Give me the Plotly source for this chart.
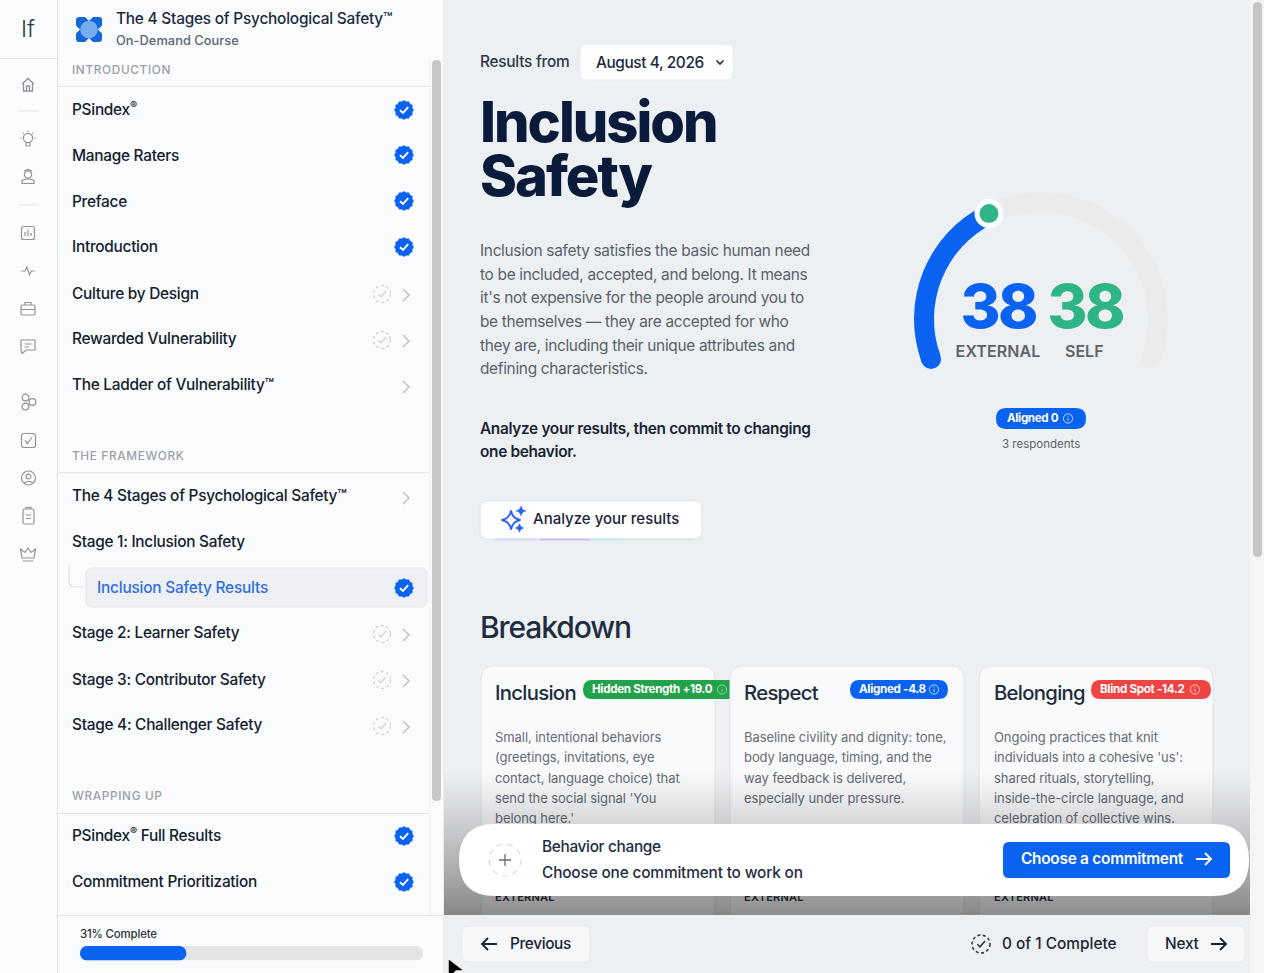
import json
import math
import plotly.graph_objects as go

# ---------- chart values ----------
EXTERNAL_SCORE = 38
SELF_SCORE = 38
GAUGE_MAX = 100
PROGRESS_PCT = 31
GAUGE_LABELS = ["EXTERNAL", "SELF"]
ALIGN_BADGE = "Aligned 0"
RESPONDENTS = "3 respondents"

BREAKDOWN_TITLES = ["Inclusion", "Respect", "Belonging"]
BREAKDOWN_BADGES = ["Hidden Strength +19.0", "Aligned -4.8", "Blind Spot -14.2"]
BREAKDOWN_TEXT = [
    ["Small, intentional behaviors", "(greetings, invitations, eye", "contact, language choice) that",
     "send the social signal 'You", "belong here.'"],
    ["Baseline civility and dignity: tone,", "body language, timing, and the",
     "way feedback is delivered,", "especially under pressure."],
    ["Ongoing practices that knit", "individuals into a cohesive 'us':", "shared rituals, storytelling,",
     "inside-the-circle language, and", "celebration of collective wins."],
]
SECTION_1 = ["PSindex<sup>®</sup>", "Manage Raters", "Preface", "Introduction", "Culture by Design",
             "Rewarded Vulnerability", "The Ladder of Vulnerability™"]
SECTION_1_STATE = ["done", "done", "done", "done", "todo", "todo", "next"]
SECTION_2 = ["The 4 Stages of Psychological Safety™", "Stage 1: Inclusion Safety", "Inclusion Safety Results",
             "Stage 2: Learner Safety", "Stage 3: Contributor Safety", "Stage 4: Challenger Safety"]
SECTION_2_STATE = ["next", "none", "active", "todo", "todo", "todo"]
SECTION_3 = ["PSindex<sup>®</sup> Full Results", "Commitment Prioritization"]
SECTION_3_STATE = ["done", "done"]
PARAGRAPH = ["Inclusion safety satisfies the basic human need", "to be included, accepted, and belong. It means",
             "it's not expensive for the people around you to", "be themselves — they are accepted for who",
             "they are, including their unique attributes and", "defining characteristics."]

# ---------- palette ----------
BG = "#edf0f3"
PANEL = "#fafbfd"
BLUE = "#0a63f0"
GREEN = "#2fb585"
INK = "#14202e"
FONT = "Inter"

shapes_below, shapes_above, annos, spacing = [], [], [], []


def rr(x0, y0, x1, y1, r):
    return (f"M{x0+r},{y0} L{x1-r},{y0} Q{x1},{y0} {x1},{y0+r} L{x1},{y1-r} Q{x1},{y1} {x1-r},{y1} "
            f"L{x0+r},{y1} Q{x0},{y1} {x0},{y1-r} L{x0},{y0+r} Q{x0},{y0} {x0+r},{y0} Z")


def box(x0, y0, x1, y1, fill, r=0, line=None, lw=1, above=False):
    s = dict(type="path", path=rr(x0, y0, x1, y1, r) if r else f"M{x0},{y0} L{x1},{y0} L{x1},{y1} L{x0},{y1} Z",
             xref="x", yref="y", fillcolor=fill, line=dict(color=line or "rgba(0,0,0,0)", width=lw if line else 0),
             layer="above" if above else "below")
    (shapes_above if above else shapes_below).append(s)


def stroke(path, color, lw=1.5, above=False, fill=None, dash=None):
    s = dict(type="path", path=path, xref="x", yref="y", line=dict(color=color, width=lw, dash=dash or "solid"),
             fillcolor=fill or "rgba(0,0,0,0)", layer="above" if above else "below")
    (shapes_above if above else shapes_below).append(s)


def circ(cx, cy, r, fill=None, line=None, lw=1, dash=None, above=False):
    s = dict(type="circle", xref="x", yref="y", x0=cx-r, x1=cx+r, y0=cy-r, y1=cy+r,
             fillcolor=fill or "rgba(0,0,0,0)", line=dict(color=line or "rgba(0,0,0,0)", width=lw if line else 0,
                                                         dash=dash or "solid"),
             layer="above" if above else "below")
    (shapes_above if above else shapes_below).append(s)


def txt(x, y, s, size=15.4, color=INK, weight=500, anchor="left", sp=0):
    annos.append(dict(x=x, y=y, xref="x", yref="y", text=s, showarrow=False, xanchor=anchor, yanchor="middle",
                      align=anchor, borderpad=0, borderwidth=0,
                      font=dict(family=FONT, size=size, color=color, weight=weight)))
    spacing.append(sp)


def badge(cx, cy):
    pts = []
    for i in range(24):
        a = math.pi * 2 * i / 24
        r = 9.6 if i % 2 == 0 else 8.5
        pts.append(f"{cx + r*math.cos(a):.2f},{cy + r*math.sin(a):.2f}")
    stroke("M" + " L".join(pts) + " Z", BLUE, 0.5, fill=BLUE)
    stroke(f"M{cx-4},{cy+0.2} L{cx-1},{cy+3} L{cx+4.2},{cy-2.8}", "white", 1.9)


def dash_check(cx, cy, color="#d0d3d7", lw=1.3, above=False, r=8.5):
    circ(cx, cy, r, line=color, lw=lw, dash="3px,2.5px", above=above)
    stroke(f"M{cx-3.6},{cy+0.2} L{cx-1},{cy+2.8} L{cx+4},{cy-3}", color, lw, above=above)


def chevron(cx, cy, color="#c4c7cb"):
    stroke(f"M{cx-3},{cy-6} L{cx+3},{cy} L{cx-3},{cy+6}", color, 1.7)


def arrow_r(x0, x1, cy, color, above=True, lw=1.9):
    stroke(f"M{x0},{cy} L{x1},{cy} M{x1-6},{cy-6} L{x1},{cy} L{x1-6},{cy+6}", color, lw, above=above)


def arrow_l(x0, x1, cy, color, above=True, lw=1.9):
    stroke(f"M{x1},{cy} L{x0},{cy} M{x0+6},{cy-6} L{x0},{cy} L{x0+6},{cy+6}", color, lw, above=above)


def info(cx, cy, color):
    circ(cx, cy, 4.6, line=color, lw=0.9)
    stroke(f"M{cx},{cy-0.6} L{cx},{cy+2.4} M{cx},{cy-2.6} L{cx},{cy-1.8}", color, 0.9)


def star(cx, cy, r):
    k = r * 0.28
    return (f"M{cx},{cy-r} Q{cx+k*.5},{cy-k*.5} {cx+r},{cy} Q{cx+k*.5},{cy+k*.5} {cx},{cy+r} "
            f"Q{cx-k*.5},{cy+k*.5} {cx-r},{cy} Q{cx-k*.5},{cy-k*.5} {cx},{cy-r} Z")


# ---------- page panels ----------
box(0, 0, 57, 973, "#fbfcfd")
box(58, 0, 444, 973, PANEL)
stroke("M57.5,0 L57.5,973", "#e4e6e9", 1)
stroke("M443.5,0 L443.5,973", "#e9ebee", 1)
stroke("M0,58.5 L57,58.5", "#e4e6e9", 1)

# left rail
txt(28, 29, "If", 23, "#30363d", 300, "center")
ICON = "#8f949b"
for yy in (111, 205):
    stroke(f"M18,{yy} L39,{yy}", "#e4e6e9", 1)
stroke("M22,84 L28,78.5 L34,84 M23.5,83 L23.5,91 L32.5,91 L32.5,83 M26.5,91 L26.5,86 L29.5,86 L29.5,91", ICON, 1.3)
circ(28, 138, 4.6, line=ICON, lw=1.2)
stroke("M26,143 L26,146 L30,146 L30,143 M28,130.5 L28,132 M20.5,138 L22,138 M34,138 L35.5,138 M22.8,132.8 L23.8,133.8 "
       "M33.2,132.8 L32.2,133.8", ICON, 1.2)
circ(28, 174.5, 3.6, line=ICON, lw=1.2)
stroke("M22,183.5 L22,181 Q23,179 28,179 Q33,179 34,181 L34,183.5 Z M24,171 L28,169.5 L32,171", ICON, 1.2)
box(21.5, 226.5, 34.5, 239.5, "rgba(0,0,0,0)", 2, ICON, 1.2)
stroke("M25,236 L25,232 M28,236 L28,229.5 M31,236 L31,233", ICON, 1.2)
stroke("M21,271 L25,271 L27,267 L29.5,275 L31.5,271 L35,271", ICON, 1.2)
box(21, 305, 35, 315, "rgba(0,0,0,0)", 1.5, ICON, 1.2)
stroke("M25,305 L25,302.5 L31,302.5 L31,305 M21,309.5 L35,309.5", ICON, 1.2)
stroke("M21,340 L35,340 L35,350 L26,350 L22,353.5 L21,350 Z M24.5,344 L31.5,344 M24.5,347 L29,347", ICON, 1.2)
circ(25.5, 397.5, 3.4, line=ICON, lw=1.2)
circ(32.5, 402, 3.4, line=ICON, lw=1.2)
circ(25.5, 406.5, 3.4, line=ICON, lw=1.2)
box(21.5, 433.5, 35.5, 447.5, "rgba(0,0,0,0)", 2.5, ICON, 1.2)
stroke("M25,440.5 L27.5,443.5 L32,437.5", ICON, 1.2)
circ(28.5, 478, 7, line=ICON, lw=1.2)
circ(28.5, 476.5, 2.4, line=ICON, lw=1.2)
stroke("M24,483 Q28.5,479.5 33,483", ICON, 1.2)
box(23, 509, 34, 524, "rgba(0,0,0,0)", 1.5, ICON, 1.2)
stroke("M26,509 L26,507.5 L31,507.5 L31,509 M26,515 L31,515 M26,518.5 L31,518.5", ICON, 1.2)
stroke("M22,558 L20.5,549 L25,552.5 L28,548 L31,552.5 L35.5,549 L34,558 Z M22.5,561 L33.5,561", ICON, 1.2)

# logo + course title
box(76, 17, 102, 42, "#1467d6", 3)
for px, py in ((76, 29.5), (102, 29.5), (89, 17), (89, 42)):
    stroke(f"M{px-4},{py} L{px},{py-4} L{px+4},{py} L{px},{py+4} Z", PANEL, 0, fill=PANEL)
circ(89, 29.5, 8.8, fill="#74aef0")
txt(116, 18.5, "The 4 Stages of Psychological Safety™", 15.4, "#1b2a3d", 500, sp=-0.22)
txt(116, 40, "On-Demand Course", 12.8, "#5d6570", 500, sp=0.05)


def rows(names, states, ys, badge_ys):
    for n, st, y, by in zip(names, states, ys, badge_ys):
        if st == "active":
            box(86, 568, 427, 607, "#eef0f3", 6, "#e4e6e9", 1)
            stroke("M69,565 L69,581 Q69,587 75,587 L83,587", "#dfe2e6", 1.2)
            txt(97, y, n, 15.4, "#2f6fe0", 500, sp=-0.2)
            badge(404, by)
            continue
        txt(72, y, n, 15.4, INK, 500, sp=-0.27)
        if st == "done":
            badge(404, by)
        if st == "todo":
            dash_check(382, by)
            chevron(406, by + 1)
        if st == "next":
            chevron(406, by + 1)


SEC_LINES = [86.5, 472.5, 813.5]
for lab, yy, ln in zip(["INTRODUCTION", "THE FRAMEWORK", "WRAPPING UP"], [70, 456, 796], SEC_LINES):
    txt(72, yy, lab, 11.8, "#9aa0a8", 500, sp=0.65)
    stroke(f"M58,{ln} L430,{ln}", "#e3e5e8", 1)
rows(SECTION_1, SECTION_1_STATE, [109, 155, 201, 246, 293, 338, 384], [110, 155, 201, 247, 294, 340, 386])
rows(SECTION_2, SECTION_2_STATE, [495, 541, 587, 632, 679, 724], [497, 541, 588, 634, 680, 726])
rows(SECTION_3, SECTION_3_STATE, [835, 881], [836, 882])
stroke("M58,915.5 L444,915.5", "#e3e5e8", 1)
box(432, 60, 441, 801, "#c6c7c9", 4.5)
stroke("M430,60 L430,915", "#f0f1f3", 1)
txt(80, 934, f"{PROGRESS_PCT}% Complete", 11.4, "#2c333c", 500, sp=-0.15)

# main page: header and copy
txt(480, 61, "Results from", 15.4, "#2b3648", 500, sp=-0.25)
box(580, 44, 733, 80, "white", 6, "#e8eaed", 1)
txt(596, 62, "August 4, 2026", 15.4, "#1b2a3d", 500, sp=-0.4)
stroke("M716.5,60.5 L720,64 L723.5,60.5", "#1b2a3d", 1.6)
txt(480, 122, "Inclusion", 56, "#0a1a3a", 800, sp=-2.0)
txt(480, 176, "Safety", 56, "#0a1a3a", 800, sp=-2.0)
for line, yy in zip(PARAGRAPH, [250, 274, 297, 321, 345, 368]):
    txt(480, yy, line, 15.4, "#5a6169", 400, sp=-0.3)
txt(480, 428, "Analyze your results, then commit to changing", 15.4, "#1a2433", 600, sp=-0.33)
txt(480, 451, "one behavior.", 15.4, "#1a2433", 600, sp=-0.33)

box(480, 501, 702, 539, "white", 7, "#e2e4e8", 1.2)
for x0, x1, col in ((495, 540, "#dcd8f4"), (540, 590, "#cdbdf6"), (590, 620, "#bfe9f0"), (620, 695, "#cdeed8")):
    stroke(f"M{x0},539.5 L{x1},539.5", col, 1.8)
stroke(star(511, 520, 9.5), "#2563eb", 1.8)
stroke(star(521, 511, 5), "#2563eb", 0.5, fill="#2563eb")
stroke(star(519.5, 528, 4.4), "#2563eb", 0.5, fill="#2563eb")
txt(533, 518.5, "Analyze your results", 15, "#1b2433", 500)

txt(480, 627, "Breakdown", 30, "#1f2d40", 500, sp=-1.1)

# breakdown cards
CARD_X = [481, 730, 979]
TITLE_X = [495, 744, 994]
BADGE_X = [(583, 730), (850, 948), (1091, 1211)]
BADGE_TX = [591.5, 859, 1100]
BADGE_COL = ["#22a24a", BLUE, "#ef4444"]
INFO_X = [722, 934, 1195]
BADGE_DIM = ["#9fd8b0", "#cfe0fd", "#fcd0d0"]
for i in range(3):
    box(CARD_X[i], 666, CARD_X[i] + 234, 930, "#f9fafc", 13, "#e2e4e8", 1)
    txt(TITLE_X[i], 692.5, BREAKDOWN_TITLES[i], 20.3, "#202c3a", 500, sp=-0.7)
    bx0, bx1 = BADGE_X[i]
    if i == 0:
        stroke(f"M{bx1},680 L{bx0+9},680 Q{bx0},680 {bx0},689.5 Q{bx0},699 {bx0+9},699 L{bx1},699 Z",
               BADGE_COL[i], 0, fill=BADGE_COL[i])
    else:
        box(bx0, 680, bx1, 699, BADGE_COL[i], 9.5)
    txt(BADGE_TX[i], 689, BREAKDOWN_BADGES[i], 11.6, "white", 700, sp=-0.3)
    info(INFO_X[i], 689.5, BADGE_DIM[i])

# fade over lower part of page content
GRADE_TOP, GRADE_BOTTOM = 768, 915
for y in range(GRADE_TOP, GRADE_BOTTOM, 3):
    a = 0.44 * ((y - GRADE_TOP) / (GRADE_BOTTOM - GRADE_TOP)) ** 1.15
    box(444, y, 1250, y + 3, f"rgba(0,0,0,{a:.3f})", above=True)

# scrollbar, footer, floating bar
box(1250, 0, 1264, 973, "#f4f5f7", above=True)
box(1253, 2, 1262, 557, "#c4c5c7", 4.5, above=True)
box(444, 915, 1250, 973, BG, above=True)
box(459, 824, 1249, 896, "white", 36, above=True)
circ(505, 860, 16, line="#d8dbde", lw=1.2, dash="6px,5px", above=True)
stroke("M505,854 L505,866 M499,860 L511,860", "#666c73", 1.3, above=True)
txt(542, 846, "Behavior change", 15.4, "#1f2d40", 500, sp=-0.33)
txt(542, 872, "Choose one commitment to work on", 15.4, "#1f2d40", 500, sp=-0.16)
box(1003, 842, 1230, 878, BLUE, 6, above=True)
txt(1021, 858, "Choose a commitment", 15.4, "white", 600, sp=-0.26)
arrow_r(1196, 1211, 859, "white")
box(462, 926, 590, 962, "#f6f8fa", 6, "#e6e8eb", 1, above=True)
arrow_l(482, 497, 944, "#1b2433")
txt(510, 943, "Previous", 15.4, "#1b2433", 500, sp=-0.37)
dash_check(981, 944, "#2a323c", 1.5, above=True, r=9)
txt(1002, 943, "0 of 1 Complete", 15.4, "#1b2433", 500)
box(1147, 926, 1245, 962, "#f6f8fa", 6, "#e6e8eb", 1, above=True)
txt(1165, 943, "Next", 15.4, "#1b2433", 500, sp=-0.2)
arrow_r(1211, 1226, 944, "#1b2433")
stroke("M449,960 L449,973 L453,973 L456,970 L462,970 Z", "black", 0.5, above=True, fill="black")

# ---------- gauge geometry ----------
GX, GY, GR, GW = 1041, 319, 117, 20
START_DEG, SWEEP_DEG = 200, 220


def gauge_xy(v):
    t = math.radians(START_DEG - SWEEP_DEG * v / GAUGE_MAX)
    return GX + GR * math.cos(t), GY - GR * math.sin(t)


# self-score dot
dx, dy = gauge_xy(SELF_SCORE)
circ(dx, dy - 0.6, 14.5, fill="white", above=True)
circ(dx, dy - 0.6, 9.5, fill=GREEN, above=True)

txt(998, 306, str(EXTERNAL_SCORE), 61, BLUE, 800, "center", sp=-2.6)
txt(1085, 306, str(SELF_SCORE), 61, GREEN, 800, "center", sp=-2.6)
txt(998, 351, GAUGE_LABELS[0], 16, "#5f6368", 600, "center", sp=0.1)
txt(1084, 351, GAUGE_LABELS[1], 16, "#5f6368", 600, "center")
box(996, 408, 1086, 429, BLUE, 10.5)
txt(1007, 418, ALIGN_BADGE, 11.6, "white", 700, sp=-0.35)
info(1068, 418.5, "#cfe0fd")
txt(1041, 444, RESPONDENTS, 11.5, "#5f6368", 400, "center")

# ---------- traces ----------
fig = go.Figure()

# round ends of the gauge
ends = [gauge_xy(0), gauge_xy(GAUGE_MAX)]
fig.add_trace(go.Scatter(x=[ends[0][0], ends[1][0]], y=[ends[0][1], ends[1][1]], mode="markers",
                         marker=dict(size=GW, color=[BLUE, "#e9ebed"], line=dict(width=0)),
                         hoverinfo="skip", showlegend=False))

# body copy sits under the floating bar, so it is a text trace
cx, cy, ct = [], [], []
for i, lines in enumerate(BREAKDOWN_TEXT):
    for j, l in enumerate(lines):
        cx.append(TITLE_X[i])
        cy.append([738.7, 759, 779.5, 799.7, 820][j])
        ct.append(l)
fig.add_trace(go.Scatter(x=cx, y=cy, text=ct, mode="text", textposition="middle right",
                         textfont=dict(family=FONT, size=13, color="#666c74", weight=400),
                         hoverinfo="skip", showlegend=False))
fig.add_trace(go.Scatter(x=TITLE_X, y=[898.5, 898.5, 898.5], text=["EXTERNAL"] * 3, mode="text",
                         textposition="middle right",
                         textfont=dict(family=FONT, size=11, color="#33373c", weight=600),
                         hoverinfo="skip", showlegend=False))

# gauge arc as a doughnut
gap = GAUGE_MAX * (360 - SWEEP_DEG) / SWEEP_DEG
outer = GR + GW / 2
fig.add_trace(go.Pie(values=[EXTERNAL_SCORE, GAUGE_MAX - EXTERNAL_SCORE, gap], sort=False, direction="clockwise",
                     rotation=(90 - START_DEG) % 360, hole=(GR - GW / 2) / outer, textinfo="none",
                     hoverinfo="skip", showlegend=False,
                     marker=dict(colors=[BLUE, "#e9ebed", "rgba(0,0,0,0)"], line=dict(width=0)),
                     domain=dict(x=[(GX - outer) / 1264, (GX + outer) / 1264],
                                 y=[(973 - GY - outer) / 973, (973 - GY + outer) / 973])))

# course progress bar
for v, col in ((100, "#e3e4e6"), (PROGRESS_PCT, BLUE)):
    fig.add_trace(go.Bar(x=[v], y=[0], orientation="h", width=1, base=0,
                         marker=dict(color=col, cornerradius=7, line=dict(width=0)),
                         xaxis="x2", yaxis="y2", hoverinfo="skip", showlegend=False))

fig.update_layout(
    width=1264, height=973, margin=dict(l=0, r=0, t=0, b=0, pad=0, autoexpand=False),
    paper_bgcolor=BG, plot_bgcolor="rgba(0,0,0,0)", barmode="overlay", barcornerradius=7, showlegend=False,
    xaxis=dict(range=[0, 1264], visible=False, fixedrange=True),
    yaxis=dict(range=[973, 0], visible=False, fixedrange=True),
    xaxis2=dict(domain=[80 / 1264, 423 / 1264], range=[0, 100], visible=False, anchor="y2", fixedrange=True),
    yaxis2=dict(domain=[(973 - 960.5) / 973, (973 - 946) / 973], range=[-0.5, 0.5], visible=False, anchor="x2",
                fixedrange=True),
    shapes=shapes_below + shapes_above, annotations=annos,
)

POST = """
document.body.style.margin='0';document.body.style.overflow='hidden';
var SP=%s;
document.querySelectorAll('.annotation').forEach(function(el){
  var i=parseInt(el.getAttribute('data-index'));var t=el.querySelector('.annotation-text');
  if(t&&SP[i]){t.style.letterSpacing=SP[i]+'px';}
});
document.querySelectorAll('.textpoint text').forEach(function(t){
  t.style.letterSpacing=(t.textContent==='EXTERNAL')?'0.25px':'-0.07px';
});
""" % json.dumps(spacing)
fig.write_html("out.html", post_script=POST, config=dict(displayModeBar=False, responsive=False))
